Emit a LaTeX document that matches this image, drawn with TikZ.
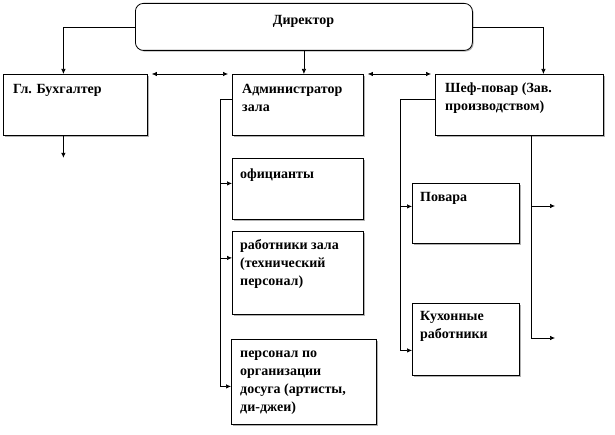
\documentclass[tikz,border=0pt]{standalone}
\usepackage{fontspec}
\setmainfont{Liberation Serif}
\usetikzlibrary{arrows.meta,shadows}
\begin{document}
\begin{tikzpicture}[x=1pt,y=-1pt,
  box/.style={draw, line width=0.8pt, fill=white, inner sep=0pt, anchor=north west,
    drop shadow={shadow xshift=1.2pt, shadow yshift=-1.2pt, fill=gray!60, opacity=1}},
  lbl/.style={anchor=north west, inner sep=0pt, align=left, font=\bfseries\fontsize{14}{18}\selectfont},
  conn/.style={line width=0.7pt},
  arr/.style={conn, -{Latex[length=5pt,width=4.5pt]}},
  darr/.style={conn, {Latex[length=5pt,width=4.5pt]}-{Latex[length=5pt,width=4.5pt]}, shorten <=4pt, shorten >=4pt},
]
\useasboundingbox (0,0) rectangle (615,435);

% boxes
\node[box, rounded corners=8pt, minimum width=337pt, minimum height=47pt] (dir) at (135,3) {};
\node[anchor=base, inner sep=0pt, font=\bfseries\fontsize{14}{18}\selectfont] (dirt) at (303.5,25) {Директор};

\node[box, minimum width=144pt, minimum height=61pt] (bux) at (3,74) {};
\node[lbl] (buxt) at ([shift={(10,7)}]bux.north west) {\strut Гл. Бухгалтер};

\node[box, minimum width=131pt, minimum height=61pt] (adm) at (232,74) {};
\node[lbl] (admt) at ([shift={(10,7)}]adm.north west) {\strut Администратор\\зала};

\node[box, minimum width=168pt, minimum height=61pt] (shef) at (435,74) {};
\node[lbl] (sheft) at ([shift={(10,6)}]shef.north west) {\strut Шеф-повар (Зав.\\производством)};

\node[box, minimum width=131pt, minimum height=61pt] (ofic) at (232,158) {};
\node[lbl] (ofict) at ([shift={(8,8)}]ofic.north west) {\strut официанты};

\node[box, minimum width=131pt, minimum height=83pt] (rab) at (232,231) {};
\node[lbl] (rabt) at ([shift={(8,6)}]rab.north west) {\strut работники зала\\(технический\\персонал)};

\node[box, minimum width=145pt, minimum height=85pt] (pers) at (231,339) {};
\node[lbl] (perst) at ([shift={(9,6)}]pers.north west) {\strut персонал по\\организации\\досуга (артисты,\\ди-джеи)};

\node[box, minimum width=107pt, minimum height=60pt] (pov) at (412,183) {};
\node[lbl] (povt) at ([shift={(8,6)}]pov.north west) {\strut Повара};

\node[box, minimum width=107pt, minimum height=72pt] (kux) at (412,303) {};
\node[lbl] (kuxt) at ([shift={(8,5)}]kux.north west) {\strut Кухонные\\работники};

% director connectors
\draw[arr] (dir.west) -| ([xshift=-12pt]bux.north);
\draw[arr] (dir.east) -| ([xshift=24pt]shef.north);
\draw[arr] (dir.south) -- (dir.south |- adm.north);
\draw[darr] (bux.north east) -- (adm.north west);
\draw[darr] (adm.north east) -- (shef.north west);

% accountant free arrow
\coordinate (bxs) at ([xshift=-12pt]bux.south);
\draw[arr] (bxs) -- ++(0,22) coordinate (bxe);

% administrator trunk
\coordinate (aout) at ([yshift=5.5pt]adm.west);
\coordinate (atop) at (220,99);
\coordinate (ofin) at ([yshift=5.5pt]ofic.west);
\coordinate (rabin) at ([yshift=15pt]rab.west);
\coordinate (persin) at ([yshift=-4.5pt]pers.west);
\draw[conn] (aout) -- (aout -| atop) -- (persin -| atop);
\draw[arr] (ofin -| atop) -- (ofin);
\draw[arr] (rabin -| atop) -- (rabin);
\draw[arr] (persin -| atop) -- (persin);

% chef left trunk
\coordinate (sout) at ([yshift=5.5pt]shef.west);
\coordinate (stop) at (400,99);
\coordinate (povin) at ([yshift=7pt]pov.west);
\coordinate (kuxin) at ([yshift=-11pt]kux.west);
\draw[conn] (sout) -- (sout -| stop) -- (kuxin -| stop);
\draw[arr] (povin -| stop) -- (povin);
\draw[arr] (kuxin -| stop) -- (kuxin);

% chef right trunk
\coordinate (sb) at ([xshift=12pt]shef.south);
\coordinate (r1) at (555,206);
\coordinate (r2) at (555,338);
\draw[conn] (sb) -- (sb |- r2);
\draw[arr] (sb |- r1) -- (r1);
\draw[arr] (sb |- r2) -- (r2);
\end{tikzpicture}
\end{document}
